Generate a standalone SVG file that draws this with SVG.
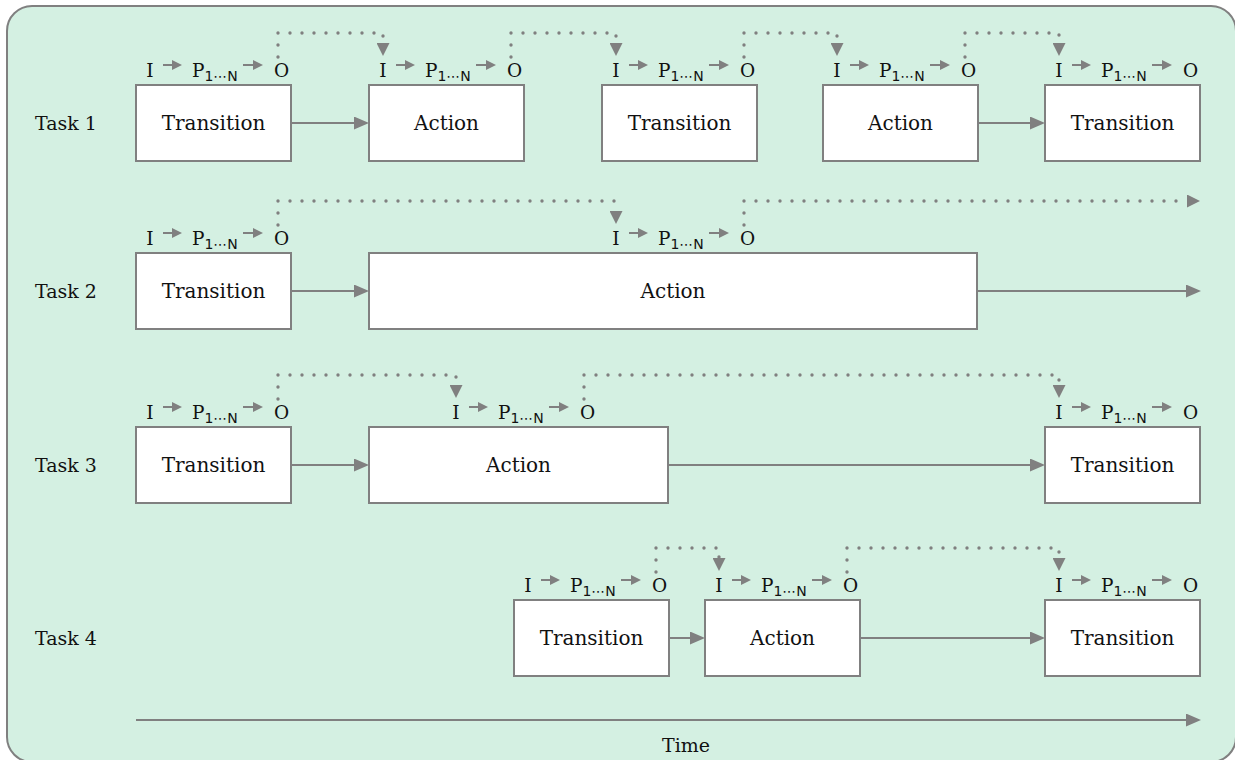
<svg xmlns="http://www.w3.org/2000/svg" xmlns:xlink="http://www.w3.org/1999/xlink" width="1235" height="760" viewBox="0 0 1235 760">
  <style>
    .panel { fill: #d4f0e2; stroke: #808080; stroke-width: 2; }
    .box { fill: #ffffff; stroke: #808080; stroke-width: 2; }
    .lbl { font-family: "DejaVu Serif", "Liberation Serif", serif; font-size: 20px; fill: #111; text-anchor: middle; }
    .task { font-family: "DejaVu Serif", "Liberation Serif", serif; font-size: 19px; fill: #111; }
    .io { font-family: "DejaVu Serif", "Liberation Serif", serif; font-size: 18.5px; fill: #111; }
    .sub { font-family: "DejaVu Sans", "Open Sans", sans-serif; font-size: 14px; }
    .flow { fill: none; stroke: #808080; stroke-width: 2; marker-end: url(#head); }
    .step { fill: none; stroke: #808080; stroke-width: 2; marker-end: url(#small); }
    .data { fill: none; stroke: #808080; stroke-width: 3.4; stroke-linecap: round; stroke-dasharray: 0 12; marker-end: url(#dothead); }
  </style>
  <defs>
    <marker id="head" viewBox="0 0 15 13" refX="0" refY="6.5" markerWidth="15" markerHeight="13" markerUnits="userSpaceOnUse" orient="auto">
      <path d="M0,0 L15,6.5 L0,13 z" fill="#808080"/>
    </marker>
    <marker id="dothead" viewBox="0 0 13 13" refX="0" refY="6.5" markerWidth="13" markerHeight="13" markerUnits="userSpaceOnUse" orient="auto">
      <path d="M0,0 L13,6.5 L0,13 z" fill="#808080"/>
    </marker>
    <marker id="small" viewBox="0 0 10 10" refX="0" refY="5" markerWidth="10" markerHeight="10" markerUnits="userSpaceOnUse" orient="auto">
      <path d="M0,0 L10,5 L0,10 z" fill="#808080"/>
    </marker>
    <!-- input -> processing -> output strip, placed above a box (origin = box left/top) -->
    <g id="iop">
      <text class="io" x="14" y="-8" text-anchor="middle">I</text>
      <line class="step" x1="27" y1="-20" x2="36" y2="-20"/>
      <text class="io" x="56" y="-8">P<tspan class="sub" dy="3.5">1⋯N</tspan></text>
      <line class="step" x1="107" y1="-20" x2="117" y2="-20"/>
      <text class="io" x="145.5" y="-8" text-anchor="middle">O</text>
    </g>
  </defs>

  <rect class="panel" x="7" y="6" width="1229" height="756" rx="25"/>

  <!-- row labels -->
  <g id="task-labels">
    <text class="task" x="35" y="130">Task 1</text>
    <text class="task" x="35" y="298">Task 2</text>
    <text class="task" x="35" y="472">Task 3</text>
    <text class="task" x="35" y="645">Task 4</text>
  </g>

  <!-- connectors -->
  <g id="connectors">
    <!-- task 1 -->
    <path class="flow" d="M291,123 H354"/>
    <path class="flow" d="M978,123 H1030"/>
    <path class="data" d="M278,57 V33 H383 V43"/>
    <path class="data" d="M511,57 V33 H616 V43"/>
    <path class="data" d="M744,57 V33 H837 V43"/>
    <path class="data" d="M965,57 V33 H1059 V43"/>
    <!-- task 2 -->
    <path class="flow" d="M291,291 H354"/>
    <path class="flow" d="M977,291 H1186"/>
    <path class="data" d="M278,225 V201 H616 V211"/>
    <path class="data" d="M744,225 V201 H1187"/>
    <!-- task 3 -->
    <path class="flow" d="M291,465 H354"/>
    <path class="flow" d="M668,465 H1030"/>
    <path class="data" d="M278,399 V375 H456 V385"/>
    <path class="data" d="M584,399 V375 H1059 V385"/>
    <!-- task 4 -->
    <path class="flow" d="M669,638 H690"/>
    <path class="flow" d="M860,638 H1030"/>
    <path class="data" d="M656,572 V548 H719 V558"/>
    <path class="data" d="M847,572 V548 H1059 V558"/>
    <!-- time axis -->
    <path class="flow" d="M136,720 H1186"/>
  </g>

  <!-- task 1 -->
  <g id="t1-transition-a">
    <rect class="box" x="136" y="85" width="155" height="76"/>
    <text class="lbl" x="213.5" y="130">Transition</text>
    <use xlink:href="#iop" x="136" y="85"/>
  </g>
  <g id="t1-action-a">
    <rect class="box" x="369" y="85" width="155" height="76"/>
    <text class="lbl" x="446.5" y="130">Action</text>
    <use xlink:href="#iop" x="369" y="85"/>
  </g>
  <g id="t1-transition-b">
    <rect class="box" x="602" y="85" width="155" height="76"/>
    <text class="lbl" x="679.5" y="130">Transition</text>
    <use xlink:href="#iop" x="602" y="85"/>
  </g>
  <g id="t1-action-b">
    <rect class="box" x="823" y="85" width="155" height="76"/>
    <text class="lbl" x="900.5" y="130">Action</text>
    <use xlink:href="#iop" x="823" y="85"/>
  </g>
  <g id="t1-transition-c">
    <rect class="box" x="1045" y="85" width="155" height="76"/>
    <text class="lbl" x="1122.5" y="130">Transition</text>
    <use xlink:href="#iop" x="1045" y="85"/>
  </g>

  <!-- task 2 -->
  <g id="t2-transition">
    <rect class="box" x="136" y="253" width="155" height="76"/>
    <text class="lbl" x="213.5" y="298">Transition</text>
    <use xlink:href="#iop" x="136" y="253"/>
  </g>
  <g id="t2-action">
    <rect class="box" x="369" y="253" width="608" height="76"/>
    <text class="lbl" x="673" y="298">Action</text>
    <use xlink:href="#iop" x="602" y="253"/>
  </g>

  <!-- task 3 -->
  <g id="t3-transition-a">
    <rect class="box" x="136" y="427" width="155" height="76"/>
    <text class="lbl" x="213.5" y="472">Transition</text>
    <use xlink:href="#iop" x="136" y="427"/>
  </g>
  <g id="t3-action">
    <rect class="box" x="369" y="427" width="299" height="76"/>
    <text class="lbl" x="518.5" y="472">Action</text>
    <use xlink:href="#iop" x="442" y="427"/>
  </g>
  <g id="t3-transition-b">
    <rect class="box" x="1045" y="427" width="155" height="76"/>
    <text class="lbl" x="1122.5" y="472">Transition</text>
    <use xlink:href="#iop" x="1045" y="427"/>
  </g>

  <!-- task 4 -->
  <g id="t4-transition-a">
    <rect class="box" x="514" y="600" width="155" height="76"/>
    <text class="lbl" x="591.5" y="645">Transition</text>
    <use xlink:href="#iop" x="514" y="600"/>
  </g>
  <g id="t4-action">
    <rect class="box" x="705" y="600" width="155" height="76"/>
    <text class="lbl" x="782.5" y="645">Action</text>
    <use xlink:href="#iop" x="705" y="600"/>
  </g>
  <g id="t4-transition-b">
    <rect class="box" x="1045" y="600" width="155" height="76"/>
    <text class="lbl" x="1122.5" y="645">Transition</text>
    <use xlink:href="#iop" x="1045" y="600"/>
  </g>

  <text class="task" x="686" y="752" text-anchor="middle">Time</text>
</svg>
